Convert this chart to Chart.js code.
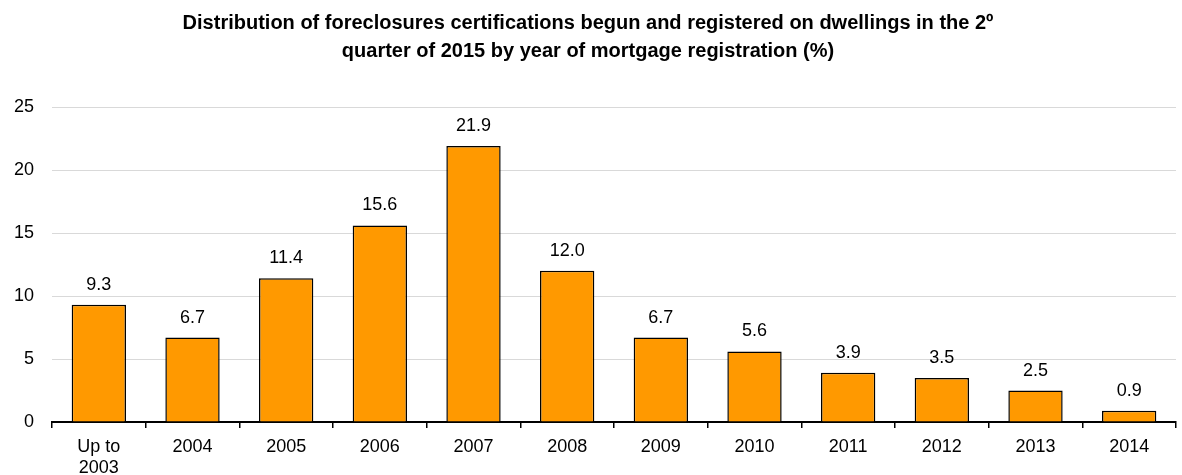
<!DOCTYPE html>
<html>
<head>
<meta charset="utf-8">
<script src="https://cdn.jsdelivr.net/npm/chart.js@4/dist/chart.umd.min.js"></script>
<style>
  html, body { margin: 0; padding: 0; background: #fff; }
  #wrap { width: 1182px; height: 475px; }
</style>
</head>
<body>
<div id="wrap"><canvas id="chart"></canvas></div>
<script>
const years = [['Up to', '2003'], '2004', '2005', '2006', '2007', '2008', '2009', '2010', '2011', '2012', '2013', '2014'];
const shares = [9.3, 6.7, 11.4, 15.6, 21.9, 12.0, 6.7, 5.6, 3.9, 3.5, 2.5, 0.9];
const yTicks = [0, 5, 10, 15, 20, 25];
const chartTitle = ['Distribution of foreclosures certifications begun and registered on dwellings in the 2º',
                    'quarter of 2015 by year of mortgage registration (%)'];

const FONT = '"Liberation Sans", Arial, sans-serif';

// labels above the bars
const valueLabels = {
    id: 'valueLabels',
    afterDatasetsDraw(chart) {
        const ctx = chart.ctx;
        const meta = chart.getDatasetMeta(0);
        ctx.save();
        ctx.font = '18px ' + FONT;
        ctx.fillStyle = '#000';
        ctx.textAlign = 'center';
        ctx.textBaseline = 'alphabetic';
        meta.data.forEach((bar, i) => {
            ctx.fillText(shares[i].toFixed(1), bar.x, bar.y - 15);
        });
        ctx.restore();
    }
};

const ctx = document.getElementById('chart').getContext('2d');
const myChart = new Chart(ctx, {
    type: 'bar',
    data: {
        labels: years,
        datasets: [{
            data: shares,
            backgroundColor: '#FF9900',
            borderColor: '#000',
            borderWidth: 1.5,
            categoryPercentage: 1,
            barPercentage: 0.58
        }]
    },
    options: {
        responsive: true,
        maintainAspectRatio: false,
        animation: false,
        layout: { padding: { left: 0, right: 6, top: 0, bottom: 0 } },
        plugins: {
            legend: { display: false },
            tooltip: { enabled: false },
            title: {
                display: true,
                text: chartTitle,
                color: '#000',
                font: { family: FONT, size: 20, weight: 'bold', lineHeight: 1.4 },
                padding: { top: 9, bottom: 42 }
            }
        },
        scales: {
            x: {
                afterFit: s => { s.height = 53; },
                border: { display: true, color: '#000', width: 2 },
                grid: { offset: true, drawOnChartArea: false, drawTicks: true, tickLength: 6, color: '#000', lineWidth: 1.5 },
                ticks: {
                    color: '#000',
                    padding: 8,
                    maxRotation: 0,
                    autoSkip: false,
                    font: { family: FONT, size: 18, lineHeight: 1.2 }
                }
            },
            y: {
                min: 0,
                max: 25,
                afterFit: s => { s.width = 52; },
                afterBuildTicks: s => { s.ticks = yTicks.map(v => ({ value: v })); },
                border: { display: false },
                grid: { color: '#d9d9d9', lineWidth: 1, drawTicks: false },
                ticks: {
                    color: '#000',
                    padding: 18,
                    font: { family: FONT, size: 18 }
                }
            }
        }
    },
    plugins: [valueLabels]
});
</script>
</body>
</html>
